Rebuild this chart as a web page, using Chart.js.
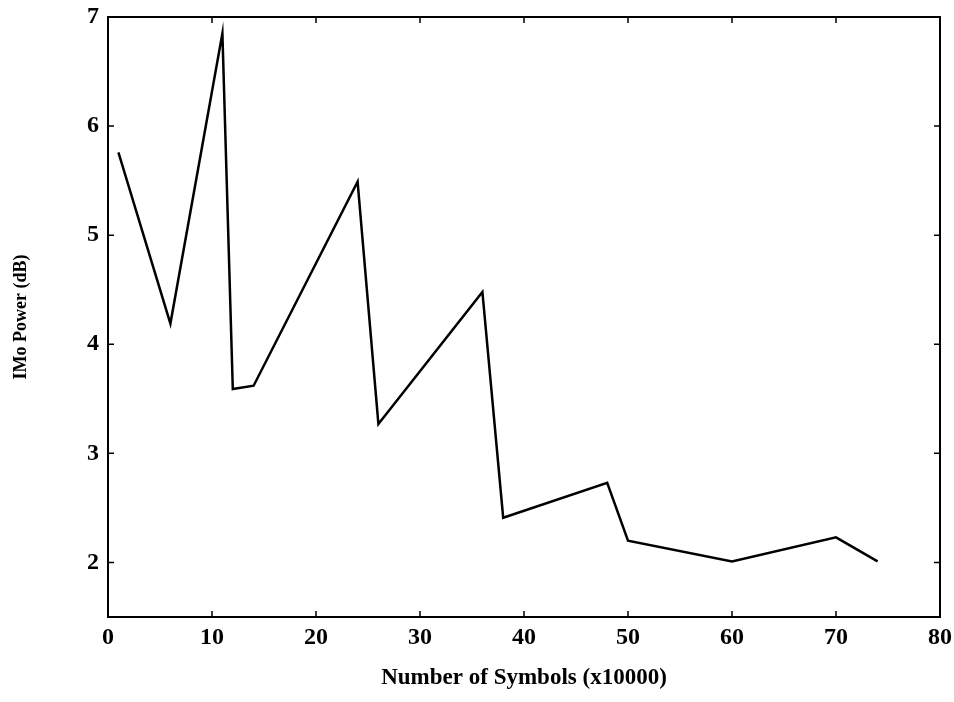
<!DOCTYPE html>
<html>
<head>
<meta charset="utf-8">
<script src="https://cdn.jsdelivr.net/npm/chart.js@4"></script>
<style>
  html, body { margin: 0; padding: 0; background: #fff; }
  canvas { display: block; }
</style>
</head>
<body>
<canvas id="c" width="954" height="702"></canvas>
<script>
const symbols = [1, 6, 11, 12, 14, 24, 26, 36, 38, 48, 50, 60, 70, 74];
const imoPower = [5.76, 4.19, 6.85, 3.59, 3.62, 5.49, 3.27, 4.48, 2.41, 2.73, 2.2, 2.01, 2.23, 2.01];
const xTicks = [0, 10, 20, 30, 40, 50, 60, 70, 80];
const yTicks = [2, 3, 4, 5, 6, 7];
const xTitle = 'Number of Symbols (x10000)';
const yTitle = 'IMo Power (dB)';

const points = symbols.map((x, i) => ({ x: x, y: imoPower[i] }));

const framePlugin = {
  id: 'frame',
  afterDraw(chart) {
    const { ctx, chartArea: a, scales } = chart;
    ctx.save();
    ctx.strokeStyle = '#000';
    ctx.lineWidth = 2;
    ctx.strokeRect(a.left, a.top, a.right - a.left, a.bottom - a.top);
    const tl = 6;
    ctx.lineWidth = 1.5;
    ctx.beginPath();
    xTicks.forEach(v => {
      const px = scales.x.getPixelForValue(v);
      ctx.moveTo(px, a.bottom); ctx.lineTo(px, a.bottom - tl);
      ctx.moveTo(px, a.top); ctx.lineTo(px, a.top + tl);
    });
    yTicks.forEach(v => {
      const py = scales.y.getPixelForValue(v);
      ctx.moveTo(a.left, py); ctx.lineTo(a.left + tl, py);
      ctx.moveTo(a.right, py); ctx.lineTo(a.right - tl, py);
    });
    ctx.stroke();
    ctx.restore();
  }
};

function zeroPad(s) {
  s.paddingTop = 0; s.paddingBottom = 0; s.paddingLeft = 0; s.paddingRight = 0;
}

new Chart(document.getElementById('c'), {
  type: 'line',
  data: {
    datasets: [{
      data: points,
      borderColor: '#000',
      borderWidth: 2.5,
      pointRadius: 0,
      tension: 0,
      fill: false
    }]
  },
  options: {
    responsive: false,
    animation: false,
    layout: { padding: { top: 17, right: 14, left: 0, bottom: 0 } },
    plugins: { legend: { display: false }, tooltip: { enabled: false } },
    scales: {
      x: {
        type: 'linear',
        min: 0, max: 80,
        afterBuildTicks: s => { s.ticks = xTicks.map(v => ({ value: v })); },
        afterFit: s => { s.height = 85; zeroPad(s); },
        grid: { display: false, drawTicks: false },
        border: { display: false },
        ticks: {
          color: '#000', padding: 6, maxRotation: 0, autoSkip: false,
          font: { family: 'Liberation Serif', size: 24, weight: 'bold' }
        },
        title: {
          display: true, text: xTitle, color: '#000',
          padding: { top: 0, bottom: 10 },
          font: { family: 'Liberation Serif', size: 23, weight: 'bold' }
        }
      },
      y: {
        type: 'linear',
        min: 1.5, max: 7,
        afterBuildTicks: s => { s.ticks = yTicks.map(v => ({ value: v })); },
        afterFit: s => { s.width = 108; zeroPad(s); },
        grid: { display: false, drawTicks: false },
        border: { display: false },
        ticks: {
          color: '#000', padding: 9, autoSkip: false,
          font: { family: 'Liberation Serif', size: 24, weight: 'bold' }
        },
        title: {
          display: true, text: yTitle, color: '#000',
          padding: { top: 11, bottom: 0 },
          font: { family: 'Liberation Serif', size: 18, weight: 'bold' }
        }
      }
    }
  },
  plugins: [framePlugin]
});
</script>
</body>
</html>
